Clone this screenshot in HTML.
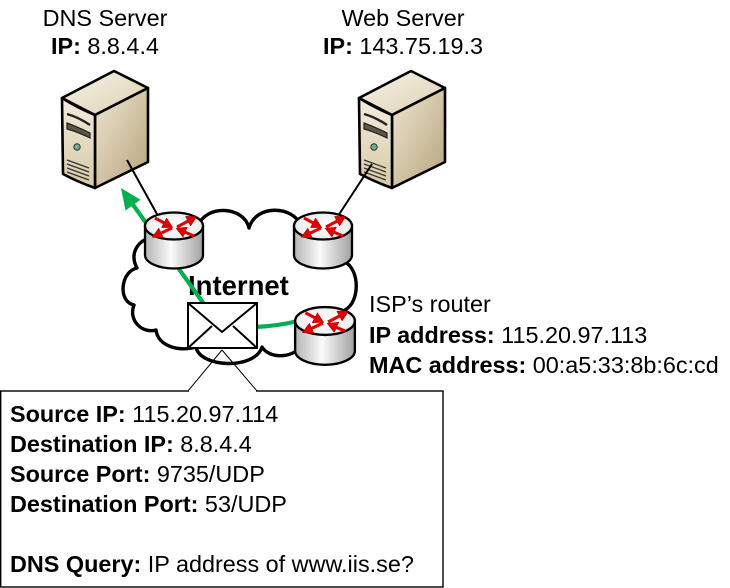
<!DOCTYPE html>
<html>
<head>
<meta charset="utf-8">
<style>
html,body{margin:0;padding:0;background:#fff;}
svg{display:block;}
text{font-family:"Liberation Sans",Arial,sans-serif;fill:#000;}
</style>
</head>
<body>
<svg width="730" height="588" viewBox="0 0 730 588" xmlns="http://www.w3.org/2000/svg">
<defs>
  <linearGradient id="rbody" x1="0" y1="0" x2="1" y2="0">
    <stop offset="0" stop-color="#b4b4b4"/>
    <stop offset="0.45" stop-color="#fafafa"/>
    <stop offset="1" stop-color="#a0a0a0"/>
  </linearGradient>
  <radialGradient id="rtop" cx="0.5" cy="0.5" r="0.6">
    <stop offset="0" stop-color="#ffffff"/>
    <stop offset="0.7" stop-color="#f0f0f0"/>
    <stop offset="1" stop-color="#cfcfcf"/>
  </radialGradient>
  <linearGradient id="sfront" x1="0" y1="0" x2="0" y2="1">
    <stop offset="0" stop-color="#f3ecdc"/>
    <stop offset="1" stop-color="#d6c9a6"/>
  </linearGradient>
  <linearGradient id="sside" x1="0" y1="0" x2="1" y2="1">
    <stop offset="0" stop-color="#efe7d3"/>
    <stop offset="1" stop-color="#b5a27a"/>
  </linearGradient>
  <linearGradient id="stop" x1="0" y1="0" x2="1" y2="1">
    <stop offset="0" stop-color="#f7f2e8"/>
    <stop offset="1" stop-color="#ddd0b2"/>
  </linearGradient>
  <marker id="ra" markerUnits="userSpaceOnUse" markerWidth="11" markerHeight="11" refX="7" refY="5.5" orient="auto">
    <path d="M0,0 L10,5.5 L0,11 z" fill="#e00000" stroke="#a00000" stroke-width="0.6"/>
  </marker>
  <g id="router">
    <path d="M-29 0 L-29 29 A29 13.5 0 0 0 29 29 L29 0 Z" fill="url(#rbody)" stroke="#000" stroke-width="2.3"/>
    <ellipse cx="0" cy="0" rx="29" ry="13.5" fill="url(#rtop)" stroke="#000" stroke-width="2.3"/>
    <g stroke="#e00000" stroke-width="3" fill="none" marker-end="url(#ra)">
      <line x1="-19" y1="-8" x2="-4" y2="0"/>
      <line x1="3" y1="1" x2="20" y2="-8"/>
      <line x1="-2" y1="2" x2="-19" y2="10"/>
      <line x1="20" y1="10" x2="5" y2="3.5"/>
    </g>
  </g>
  <g id="server">
    <path d="M62 98 L114 71 L148 88 L95 115 Z" fill="url(#stop)" stroke="#000" stroke-width="2.6" stroke-linejoin="round"/>
    <path d="M95 115 L148 88 L148 162 L95 188 Z" fill="url(#sside)" stroke="#000" stroke-width="2.6" stroke-linejoin="round"/>
    <path d="M62 98 Q78 108 95 115 L95 188 Q78 182 63 174 Z" fill="url(#sfront)" stroke="#000" stroke-width="2.6" stroke-linejoin="round"/>
    <path d="M67 114 Q78 117 90 125" fill="none" stroke="#222" stroke-width="2.4"/>
    <path d="M67 123 Q78 127 90 133 L90 138 Q78 132 67 129 Z" fill="#5e5646" stroke="#222" stroke-width="1.2"/>
    <circle cx="77" cy="147" r="3.2" fill="#6fae95" stroke="#333" stroke-width="1"/>
    <g stroke="#333" stroke-width="1.2">
      <line x1="67" y1="160" x2="89" y2="168"/>
      <line x1="67" y1="164" x2="89" y2="172"/>
      <line x1="67" y1="168" x2="89" y2="176"/>
      <line x1="67" y1="172" x2="89" y2="180"/>
    </g>
  </g>
</defs>

<!-- labels -->
<text x="105" y="26" font-size="23.4" text-anchor="middle">DNS Server</text>
<text x="105" y="54" font-size="23.4" text-anchor="middle"><tspan font-weight="bold">IP:</tspan> 8.8.4.4</text>
<text x="403" y="26" font-size="23.4" text-anchor="middle">Web Server</text>
<text x="403" y="54" font-size="23.4" text-anchor="middle"><tspan font-weight="bold">IP:</tspan> 143.75.19.3</text>

<!-- servers -->
<use href="#server"/>
<use href="#server" transform="translate(297,0)"/>

<!-- server-router lines -->
<line x1="127" y1="160" x2="158" y2="216" stroke="#000" stroke-width="2"/>
<line x1="372" y1="164" x2="338" y2="216" stroke="#000" stroke-width="2"/>

<!-- callout box -->
<rect x="0.7" y="391" width="442.3" height="196" fill="#fff" stroke="#000" stroke-width="1.4"/>

<!-- cloud -->
<path d="M160 236
  C 140 236, 128 252, 137 268
  C 120 272, 118 302, 134 305
  C 128 320, 142 334, 156 330
  C 158 346, 178 352, 196 347
  C 200 368, 255 370, 262 347
  C 270 360, 296 358, 302 344
  L 345 310
  C 360 302, 360 270, 345 262
  L 300 224
  C 292 206, 256 204, 249 228
  C 244 206, 206 204, 198 226 Z"
  fill="#fff" stroke="#000" stroke-width="3.4" stroke-linejoin="round"/>

<!-- callout pointer -->
<line x1="188" y1="391" x2="222" y2="350" stroke="#000" stroke-width="1"/>
<line x1="257" y1="391" x2="222" y2="350" stroke="#000" stroke-width="1"/>
<line x1="189" y1="391" x2="256" y2="391" stroke="#fff" stroke-width="2"/>

<!-- Internet label -->
<text x="188" y="295" font-size="27.5" font-weight="bold">Internet</text>

<!-- green path -->
<line x1="204" y1="304" x2="132.5" y2="204" stroke="#00b050" stroke-width="4.2"/>
<polygon points="121,188 140.5,199.8 125.5,210.5" fill="#00b050"/>
<path d="M255 327 Q278 326 298 321" fill="none" stroke="#00b050" stroke-width="4.2"/>

<!-- routers -->
<use href="#router" transform="translate(174,226)"/>
<use href="#router" transform="translate(323,226)"/>
<use href="#router" transform="translate(325,321) scale(1.03)"/>

<!-- envelope -->
<rect x="188" y="303" width="69" height="45" fill="#fff" stroke="#000" stroke-width="2"/>
<polyline points="188,303 222,332 257,303" fill="none" stroke="#000" stroke-width="2"/>
<line x1="188" y1="348" x2="212" y2="326" stroke="#000" stroke-width="2"/>
<line x1="257" y1="348" x2="233" y2="326" stroke="#000" stroke-width="2"/>

<!-- ISP router labels -->
<text x="369" y="312" font-size="23.4">ISP’s router</text>
<text x="369" y="343" font-size="23.4"><tspan font-weight="bold">IP address:</tspan> 115.20.97.113</text>
<text x="369" y="373" font-size="23.4"><tspan font-weight="bold">MAC address:</tspan> 00:a5:33:8b:6c:cd</text>

<!-- callout text -->
<text x="10" y="422" font-size="23.4"><tspan font-weight="bold">Source IP:</tspan> 115.20.97.114</text>
<text x="10" y="452" font-size="23.4"><tspan font-weight="bold">Destination IP:</tspan> 8.8.4.4</text>
<text x="10" y="482" font-size="23.4"><tspan font-weight="bold">Source Port:</tspan> 9735/UDP</text>
<text x="10" y="512" font-size="23.4"><tspan font-weight="bold">Destination Port:</tspan> 53/UDP</text>
<text x="10" y="572" font-size="23.4"><tspan font-weight="bold">DNS Query:</tspan> IP address of www.iis.se?</text>
</svg>
</body>
</html>
